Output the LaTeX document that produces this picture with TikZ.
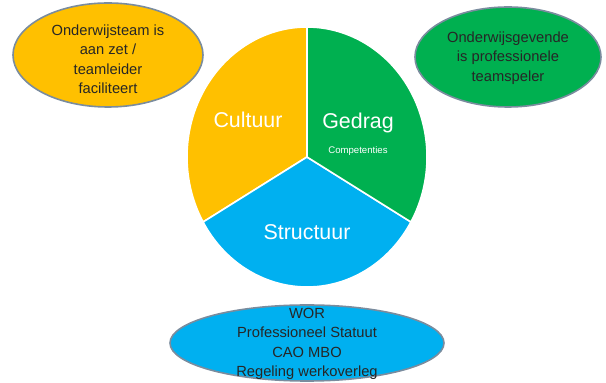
\documentclass[tikz,border=0pt]{standalone}
\usepackage{fontspec}
\setmainfont{Liberation Sans}
\usetikzlibrary{shapes.geometric}

\definecolor{geel}{RGB}{255,192,0}
\definecolor{groen}{RGB}{0,176,80}
\definecolor{blauw}{RGB}{0,176,240}
\definecolor{rand}{RGB}{122,140,158}

\tikzset{
  wolk/.style={ellipse, draw=rand, line width=1.6pt, inner sep=0pt},
  wolktekst/.style={align=center, text=black!85, inner sep=0pt,
    font=\fontsize{14.7}{19.5}\selectfont},
  taart/.style={draw=white, line width=1.6pt},
  taarttekst/.style={text=white, font=\fontsize{21.4}{24}\selectfont}
}

\begin{document}
\begin{tikzpicture}[x=1pt, y=1pt]
    \useasboundingbox (0, 0) rectangle (606, 383);

    % Pie
    \coordinate (midden) at (307, 226);
    \fill [geel, taart] (midden) -- ++(90:120 and 130)
          arc [start angle=90, end angle=210, x radius=120, y radius=130] -- cycle;
    \fill [blauw, taart] (midden) -- ++(210:120 and 130)
          arc [start angle=210, end angle=330, x radius=120, y radius=130] -- cycle;
    \fill [groen, taart] (midden) -- ++(-30:120 and 130)
          arc [start angle=-30, end angle=90, x radius=120, y radius=130] -- cycle;

    % Pie labels
    \node [taarttekst] (cultuur) at (248, 263) {Cultuur};
    \node [taarttekst] (gedrag) at (358, 260) {Gedrag};
    \node [text=white, font=\fontsize{9.6}{11}\selectfont] (competenties) at (358, 232) {Competenties};
    \node [taarttekst] (structuur) at (307, 151) {Structuur};

    % Onderwijsteam
    \node [wolk, fill=geel, minimum width=190pt, minimum height=104pt] (teamwolk) at (108, 328) {};
    \node [wolktekst] (teamtekst) at (108, 324) {Onderwijsteam is\\aan zet /\\teamleider\\faciliteert};

    % Onderwijsgevende
    \node [wolk, fill=groen, minimum width=186pt, minimum height=100pt] (gevendewolk) at (508, 326) {};
    \node [wolktekst] (gevendetekst) at (508, 325) {Onderwijsgevende\\is professionele\\teamspeler};

    % Regelingen
    \node [wolk, fill=blauw, minimum width=274pt, minimum height=76pt] (regelwolk) at (307, 40) {};
    \node [wolktekst] (regeltekst) at (307, 39) {WOR\\Professioneel Statuut\\CAO MBO\\Regeling werkoverleg};
\end{tikzpicture}
\end{document}
